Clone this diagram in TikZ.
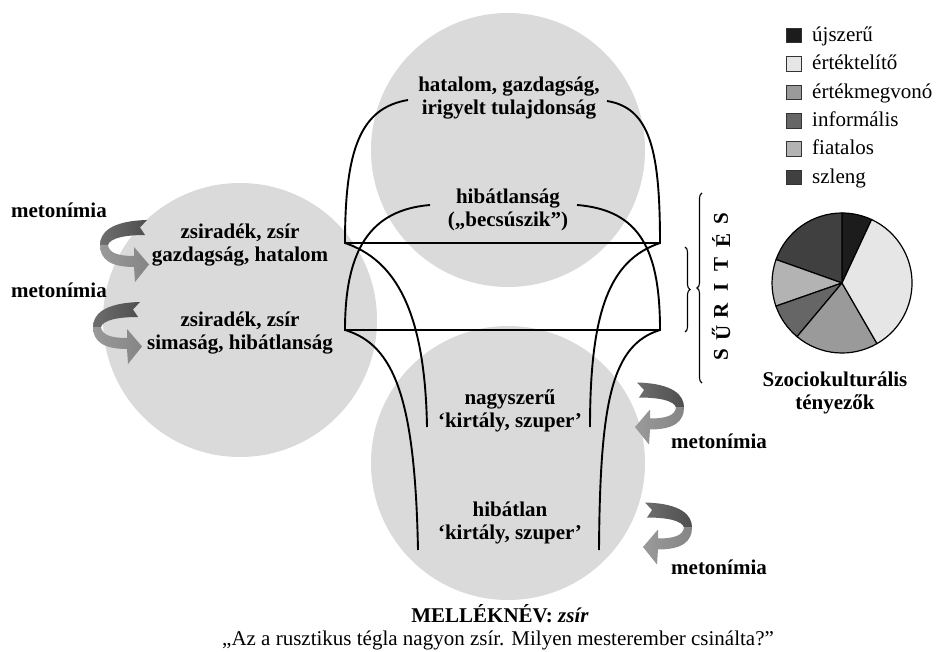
\documentclass[tikz,border=0pt]{standalone}
\usepackage{fontspec}
\setmainfont{Liberation Serif}
\usetikzlibrary{decorations.pathreplacing}
\definecolor{circgray}{HTML}{DADADA}
\definecolor{arrdarkA}{HTML}{4E4E4E}
\definecolor{arrdarkB}{HTML}{6E6E6E}
\definecolor{arrlightA}{HTML}{9A9A9A}
\definecolor{arrlightB}{HTML}{858585}
\definecolor{cnew}{HTML}{1C1C1C}
\definecolor{cfull}{HTML}{E6E6E6}
\definecolor{cless}{HTML}{9A9A9A}
\definecolor{cinf}{HTML}{666666}
\definecolor{cyoung}{HTML}{B3B3B3}
\definecolor{cslang}{HTML}{404040}
\tikzset{
  metarrow/.pic={
    \shade[left color=arrdarkB, right color=arrdarkA]
      (0,0) .. controls (0,12) and (10,24) .. (47,25) -- (40,17.5) -- (45,10)
      .. controls (25,10) and (10,7) .. (8,0) -- cycle;
    \shade[left color=arrlightA, right color=arrlightB]
      (0,0) .. controls (0,-14) and (10,-22) .. (34,-22) -- (35,-37) -- (49,-19.5)
      -- (34,-2) -- (34,-11) .. controls (18,-11) and (9,-8) .. (8,0) -- cycle;
  }
}
\begin{document}
\begin{tikzpicture}[x=1pt,y=1pt,
  bubble/.style={fill=circgray},
  lbl/.style={font=\fontsize{21}{23.5}\selectfont\bfseries, align=center, inner sep=0pt},
  plain/.style={font=\fontsize{21}{23.5}\selectfont, inner sep=0pt},
  curve/.style={line width=1.9pt, line join=miter},
  legbox/.style={draw=black!80, line width=0.8pt, minimum size=14.5pt, inner sep=0pt},
  legtxt/.style={font=\fontsize{21}{23.5}\selectfont, inner sep=0pt, anchor=base west},
  vletter/.style={font=\fontsize{21}{23.5}\selectfont\bfseries, rotate=90, inner sep=0pt},
  slice/.style={draw=black, line width=1.2pt, line join=round},
  bracestyle/.style={line width=1.1pt, decorate, decoration={brace, amplitude=5pt}}
]
\useasboundingbox (0,0) rectangle (936,-652);
\fill[white] (0,0) rectangle (936,-652);

% circles
\fill[bubble] (508,-150) circle[radius=137];
\fill[bubble] (240,-320) circle[radius=137];
\fill[bubble] (508,-463) circle[radius=137];

% frame coordinates
\coordinate (H1L) at (345,-243);
\coordinate (H1R) at (660,-243);
\coordinate (H2L) at (345,-330);
\coordinate (H2R) at (660,-330);
\coordinate (A1) at (408,-100);
\coordinate (A2) at (607,-101);
\coordinate (B1) at (430,-205);
\coordinate (B2) at (577,-205);
\coordinate (C1) at (427,-427);
\coordinate (C2) at (590,-427);
\coordinate (D1) at (418,-550);
\coordinate (D2) at (599,-550);

\draw[curve] (A1) .. controls (360,-108) and (345,-150) .. (H1L) -- (H1R)
  .. controls (660,-150) and (650,-108) .. (A2);
\draw[curve] (B1) .. controls (370,-210) and (345,-250) .. (H2L) -- (H2R)
  .. controls (660,-250) and (640,-210) .. (B2);
\draw[curve] (C1) .. controls (425,-310) and (395,-260) .. (H1L);
\draw[curve] (H1R) .. controls (610,-260) and (590,-310) .. (C2);
\draw[curve] (D1) .. controls (415,-400) and (395,-345) .. (H2L);
\draw[curve] (H2R) .. controls (612,-345) and (600,-400) .. (D2);

% texts in circles
\node[lbl] (t1) at (509,-98) {hatalom, gazdagság,\\irigyelt tulajdonság};
\node[lbl] (t2) at (508,-210) {hibátlanság\\(„becsúszik”)};
\node[lbl] (l1) at (240,-245) {zsiradék, zsír\\gazdagság, hatalom};
\node[lbl] (l2) at (240,-333) {zsiradék, zsír\\simaság, hibátlanság};
\node[lbl] (b1) at (510,-411) {nagyszerű\\‘kirtály, szuper’};
\node[lbl] (b2) at (510,-523) {hibátlan\\‘kirtály, szuper’};

% caption
\node[lbl, anchor=base] (cap) at (500,-622) {MELLÉKNÉV: \textit{zsír}};
\node[plain, anchor=base] (quote) at (498,-645.5) {„Az a rusztikus tégla nagyon zsír. Milyen mesterember csinálta?”};

% metonymy arrows and labels
\pic at (100,-245) {metarrow};
\pic at (93,-327) {metarrow};
\pic[xscale=-1] at (684,-407.5) {metarrow};
\pic[xscale=-1] at (692,-527.5) {metarrow};
\node[lbl] (m1) at (59,-210) {metonímia};
\node[lbl] (m2) at (59,-290) {metonímia};
\node[lbl] (m3) at (719,-441) {metonímia};
\node[lbl] (m4) at (719,-567) {metonímia};

% braces
\draw[bracestyle] (702,-383) -- (702,-193);
\draw[bracestyle] (685,-247) -- (685,-332);

% vertical word
\node[vletter] (v1) at (721,-355) {S};
\node[vletter] (v2) at (721,-333) {Ű};
\node[vletter] (v3) at (721,-311) {R};
\node[vletter] (v4) at (721,-287) {I};
\node[vletter] (v5) at (721,-264) {T};
\node[vletter] (v6) at (721,-240) {É};
\node[vletter] (v7) at (721,-219) {S};

% pie chart
\coordinate (pc) at (842,-283);
\filldraw[slice, fill=cnew] (pc) -- ++(65:70) arc[start angle=65, end angle=90, radius=70] -- cycle;
\filldraw[slice, fill=cslang] (pc) -- ++(90:70) arc[start angle=90, end angle=160.4, radius=70] -- cycle;
\filldraw[slice, fill=cyoung] (pc) -- ++(160.4:70) arc[start angle=160.4, end angle=199.3, radius=70] -- cycle;
\filldraw[slice, fill=cinf] (pc) -- ++(199.3:70) arc[start angle=199.3, end angle=230, radius=70] -- cycle;
\filldraw[slice, fill=cless] (pc) -- ++(230:70) arc[start angle=230, end angle=300, radius=70] -- cycle;
\filldraw[slice, fill=cfull] (pc) -- ++(300:70) arc[start angle=300, end angle=425, radius=70] -- cycle;
\node[lbl] (pietitle) at (835,-393) {Szociokulturális\\tényezők};

% legend
\node[legbox, fill=cnew] (k1) at (794,-35.5) {};
\node[legbox, fill=cfull] (k2) at (794,-64) {};
\node[legbox, fill=cless] (k3) at (794,-92.5) {};
\node[legbox, fill=cinf] (k4) at (794,-121) {};
\node[legbox, fill=cyoung] (k5) at (794,-149) {};
\node[legbox, fill=cslang] (k6) at (794,-177.5) {};
\node[legtxt] (n1) at (812,-41.5) {újszerű};
\node[legtxt] (n2) at (812,-70) {értéktelítő};
\node[legtxt] (n3) at (812,-98.5) {értékmegvonó};
\node[legtxt] (n4) at (812,-127) {informális};
\node[legtxt] (n5) at (812,-155) {fiatalos};
\node[legtxt] (n6) at (812,-183.5) {szleng};
\end{tikzpicture}
\end{document}
